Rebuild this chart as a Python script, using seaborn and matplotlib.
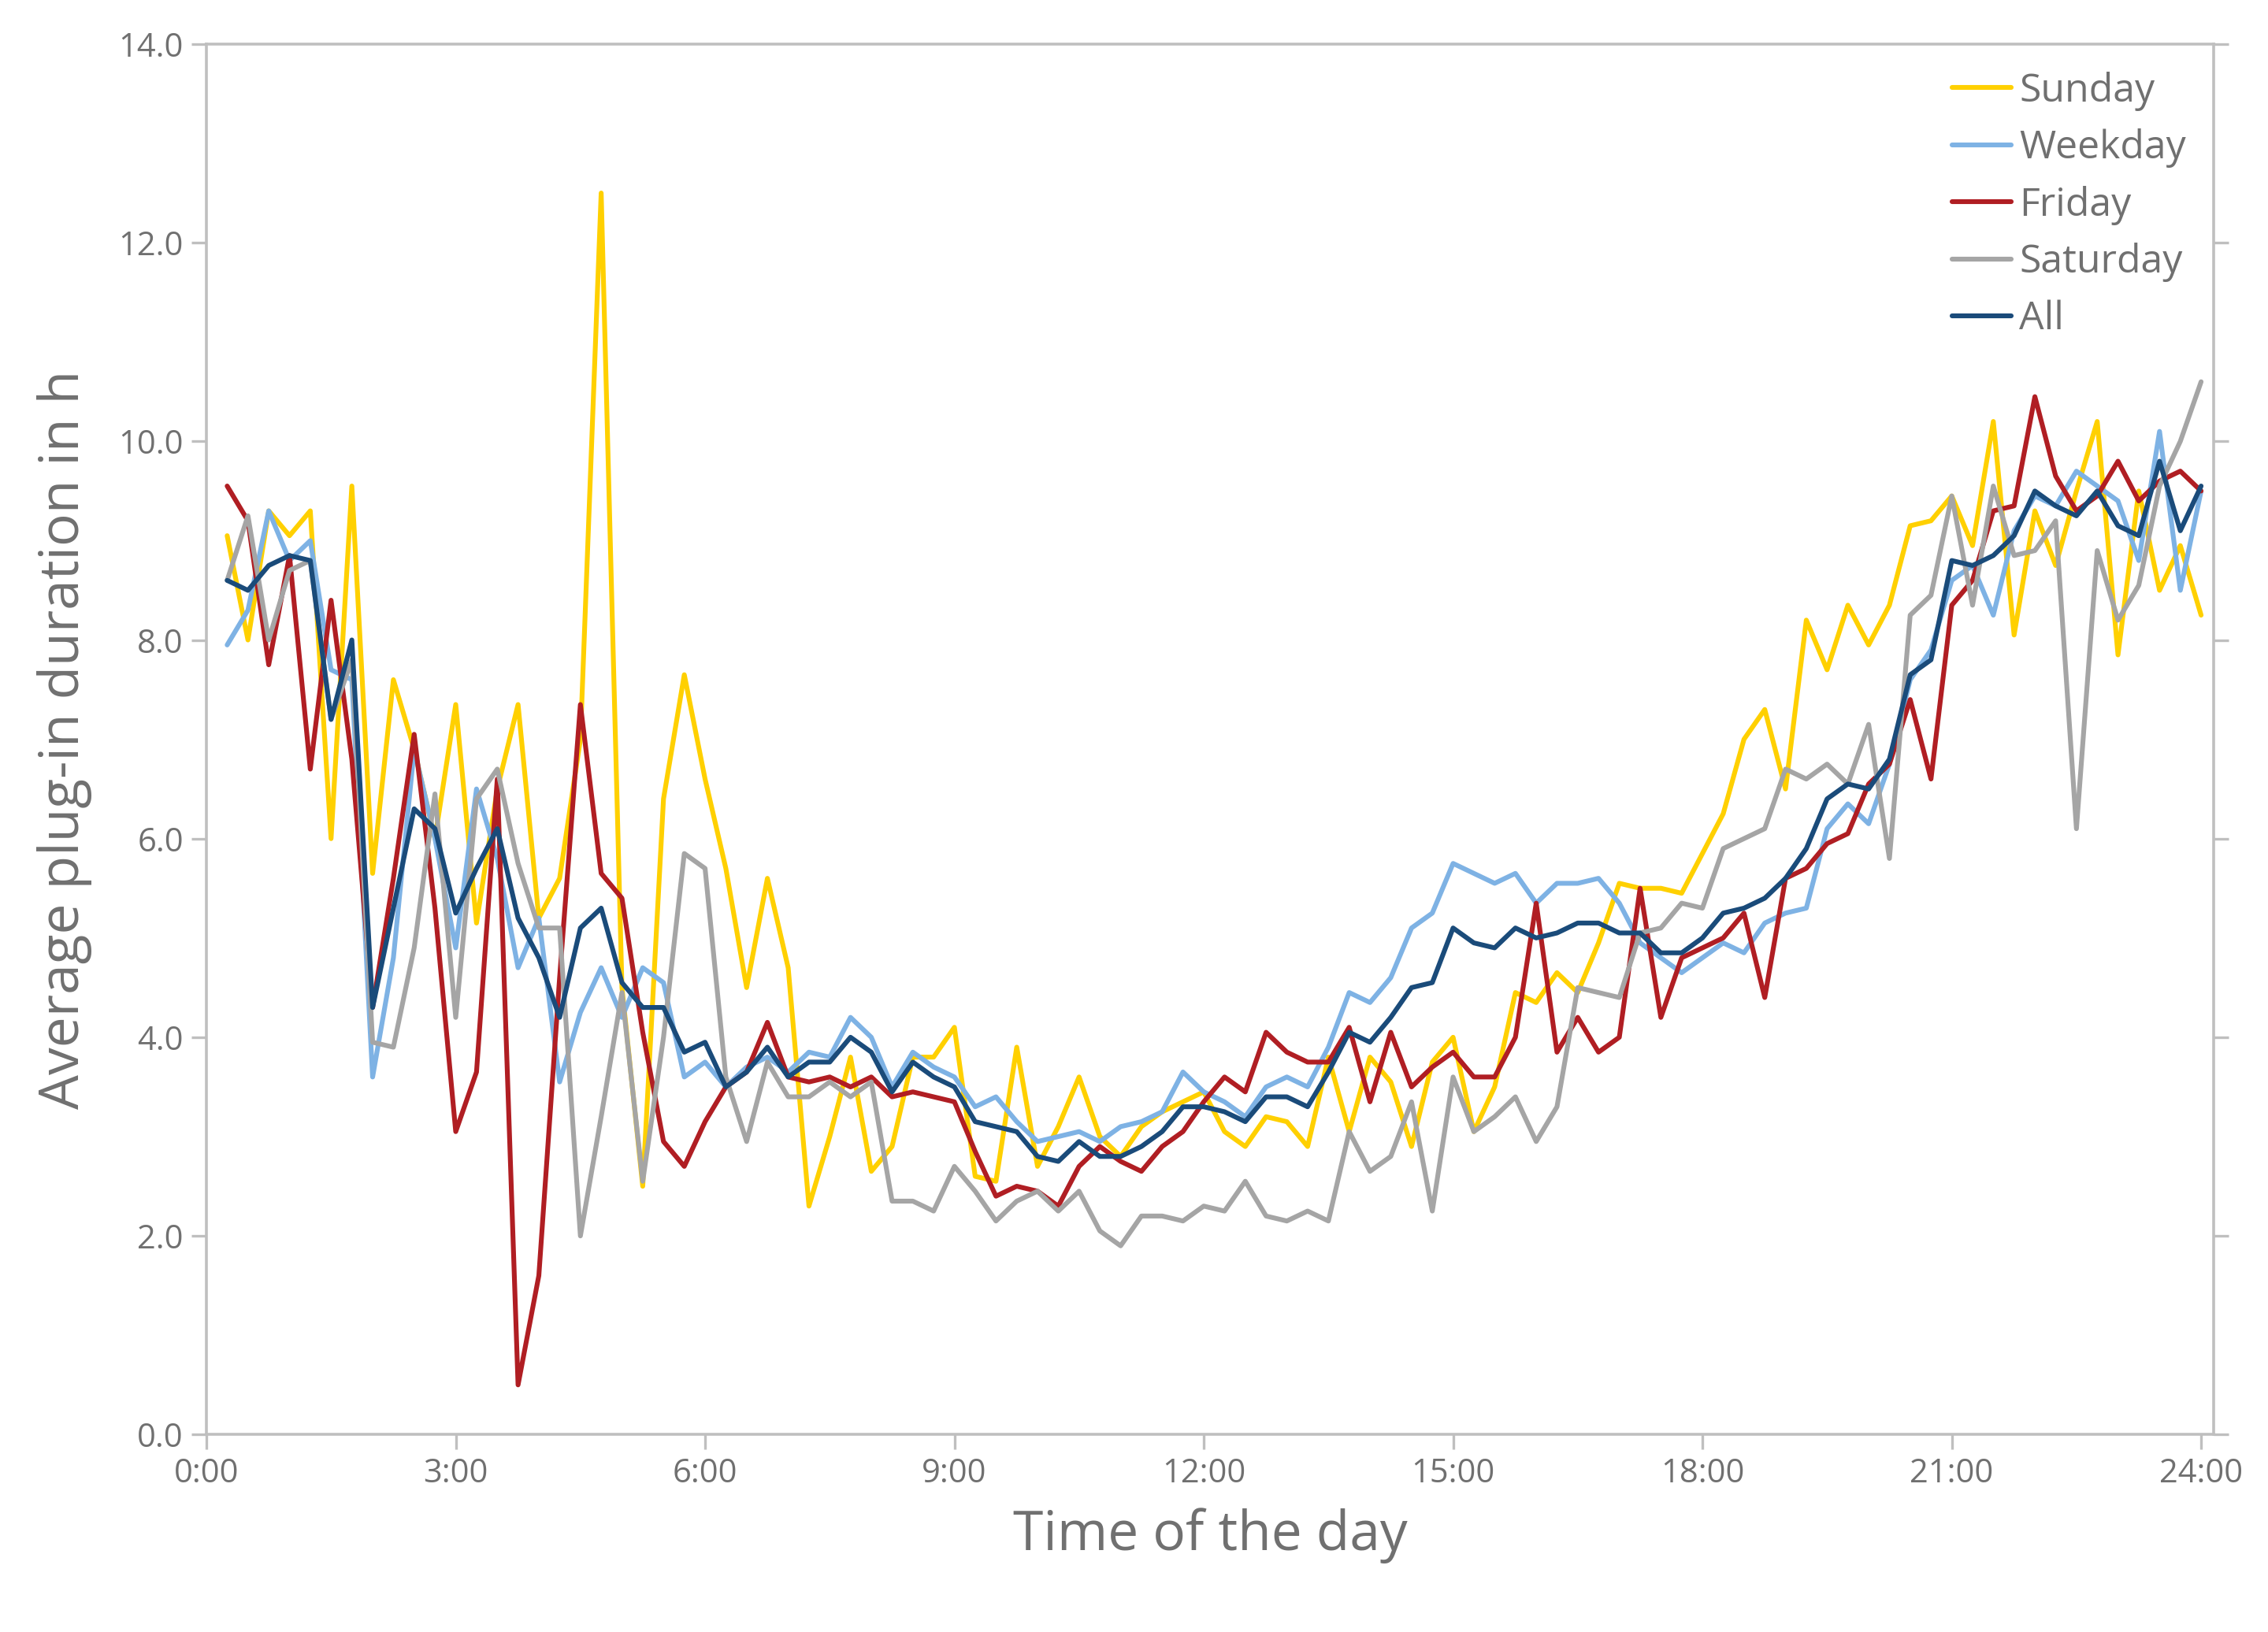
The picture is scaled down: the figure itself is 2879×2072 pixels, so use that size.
import numpy as np
import pandas as pd
import matplotlib
matplotlib.use("Agg")
import matplotlib.pyplot as plt
import seaborn as sns

# quarter-hour slots, 0:15 .. 24:00
hours = np.arange(1, 97) * 0.25

sunday = [9.05, 8.0, 9.3, 9.05, 9.3, 6.0, 9.55, 5.65, 7.6, 6.9,
          6.0, 7.35, 5.15, 6.5, 7.35, 5.2, 5.6, 7.0, 12.5, 4.5,
          2.5, 6.4, 7.65, 6.6, 5.7, 4.5, 5.6, 4.7, 2.3, 3.0,
          3.8, 2.65, 2.9, 3.8, 3.8, 4.1, 2.6, 2.55, 3.9, 2.7,
          3.1, 3.6, 3.0, 2.8, 3.1, 3.25, 3.35, 3.45, 3.05, 2.9,
          3.2, 3.15, 2.9, 3.8, 3.05, 3.8, 3.55, 2.9, 3.75, 4.0,
          3.05, 3.5, 4.45, 4.35, 4.65, 4.45, 4.95, 5.55, 5.5, 5.5,
          5.45, 5.85, 6.25, 7.0, 7.3, 6.5, 8.2, 7.7, 8.35, 7.95,
          8.35, 9.15, 9.2, 9.45, 8.95, 10.2, 8.05, 9.3, 8.75, 9.5,
          10.2, 7.85, 9.5, 8.5, 8.95, 8.25]
weekday = [7.95, 8.3, 9.3, 8.8, 9.0, 7.7, 7.6, 3.6, 4.8, 6.9,
           6.0, 4.9, 6.5, 5.8, 4.7, 5.2, 3.55, 4.25, 4.7, 4.2,
           4.7, 4.55, 3.6, 3.75, 3.5, 3.7, 3.8, 3.65, 3.85, 3.8,
           4.2, 4.0, 3.5, 3.85, 3.7, 3.6, 3.3, 3.4, 3.15, 2.95,
           3.0, 3.05, 2.95, 3.1, 3.15, 3.25, 3.65, 3.45, 3.35, 3.2,
           3.5, 3.6, 3.5, 3.9, 4.45, 4.35, 4.6, 5.1, 5.25, 5.75,
           5.65, 5.55, 5.65, 5.35, 5.55, 5.55, 5.6, 5.35, 4.95, 4.8,
           4.65, 4.8, 4.95, 4.85, 5.15, 5.25, 5.3, 6.1, 6.35, 6.15,
           6.75, 7.6, 7.9, 8.6, 8.75, 8.25, 9.1, 9.45, 9.35, 9.7,
           9.55, 9.4, 8.8, 10.1, 8.5, 9.5]
friday = [9.55, 9.2, 7.75, 8.85, 6.7, 8.4, 6.8, 4.3, 5.6, 7.05,
          5.3, 3.05, 3.65, 6.6, 0.5, 1.6, 4.6, 7.35, 5.65, 5.4,
          4.05, 2.95, 2.7, 3.15, 3.5, 3.65, 4.15, 3.6, 3.55, 3.6,
          3.5, 3.6, 3.4, 3.45, 3.4, 3.35, 2.85, 2.4, 2.5, 2.45,
          2.3, 2.7, 2.9, 2.75, 2.65, 2.9, 3.05, 3.35, 3.6, 3.45,
          4.05, 3.85, 3.75, 3.75, 4.1, 3.35, 4.05, 3.5, 3.7, 3.85,
          3.6, 3.6, 4.0, 5.35, 3.85, 4.2, 3.85, 4.0, 5.5, 4.2,
          4.8, 4.9, 5.0, 5.25, 4.4, 5.6, 5.7, 5.95, 6.05, 6.55,
          6.75, 7.4, 6.6, 8.35, 8.6, 9.3, 9.35, 10.45, 9.65, 9.3,
          9.45, 9.8, 9.4, 9.6, 9.7, 9.5]
saturday = [8.6, 9.25, 8.0, 8.7, 8.8, 7.2, 7.8, 3.95, 3.9, 4.9,
            6.45, 4.2, 6.4, 6.7, 5.75, 5.1, 5.1, 2.0, 3.2, 4.45,
            2.55, 4.0, 5.85, 5.7, 3.6, 2.95, 3.75, 3.4, 3.4, 3.55,
            3.4, 3.55, 2.35, 2.35, 2.25, 2.7, 2.45, 2.15, 2.35, 2.45,
            2.25, 2.45, 2.05, 1.9, 2.2, 2.2, 2.15, 2.3, 2.25, 2.55,
            2.2, 2.15, 2.25, 2.15, 3.05, 2.65, 2.8, 3.35, 2.25, 3.6,
            3.05, 3.2, 3.4, 2.95, 3.3, 4.5, 4.45, 4.4, 5.05, 5.1,
            5.35, 5.3, 5.9, 6.0, 6.1, 6.7, 6.6, 6.75, 6.55, 7.15,
            5.8, 8.25, 8.45, 9.45, 8.35, 9.55, 8.85, 8.9, 9.2, 6.1,
            8.9, 8.2, 8.55, 9.55, 10.0, 10.6]
all_days = [8.6, 8.5, 8.75, 8.85, 8.8, 7.2, 8.0, 4.3, 5.3, 6.3,
            6.1, 5.25, 5.7, 6.1, 5.2, 4.8, 4.2, 5.1, 5.3, 4.55,
            4.3, 4.3, 3.85, 3.95, 3.5, 3.65, 3.9, 3.6, 3.75, 3.75,
            4.0, 3.85, 3.45, 3.75, 3.6, 3.5, 3.15, 3.1, 3.05, 2.8,
            2.75, 2.95, 2.8, 2.8, 2.9, 3.05, 3.3, 3.3, 3.25, 3.15,
            3.4, 3.4, 3.3, 3.65, 4.05, 3.95, 4.2, 4.5, 4.55, 5.1,
            4.95, 4.9, 5.1, 5.0, 5.05, 5.15, 5.15, 5.05, 5.05, 4.85,
            4.85, 5.0, 5.25, 5.3, 5.4, 5.6, 5.9, 6.4, 6.55, 6.5,
            6.8, 7.65, 7.8, 8.8, 8.75, 8.85, 9.05, 9.5, 9.35, 9.25,
            9.5, 9.15, 9.05, 9.8, 9.1, 9.55]

series_names = ["Sunday", "Weekday", "Friday", "Saturday", "All"]
colors = ["#FFD000", "#7EB2E4", "#B01E23", "#A5A5A5", "#1A4B7A"]

df = pd.DataFrame({"hour": np.tile(hours, 5),
                   "value": np.concatenate([sunday, weekday, friday, saturday, all_days]),
                   "day": np.repeat(series_names, 96)})

sns.set_style("white")
plt.rcParams["font.family"] = ["Open Sans", "DejaVu Sans"]
txt = "#707070"
edge = "#BFBFBF"

fig = plt.figure(figsize=(14.395, 10.36), dpi=200)
ax = fig.add_axes([0.091, 0.121, 0.885, 0.852])
sns.lineplot(data=df, x="hour", y="value", hue="day", hue_order=series_names,
             palette=colors, linewidth=2.2, ax=ax)

ax.set_xlim(0, 24.15)
ax.set_ylim(0, 14)
ax.set_xticks(np.arange(0, 25, 3))
ax.set_xticklabels([f"{h}:00" for h in range(0, 25, 3)])
ax.set_yticks(np.arange(0, 14.1, 2))
ax.set_yticklabels([f"{v:.1f}" for v in np.arange(0, 14.1, 2)])
ax.tick_params(axis="both", colors=edge, labelcolor=txt, labelsize=15,
               length=7, width=1.2, direction="out", left=True, bottom=True)
ax.tick_params(axis="y", right=True)
for s in ax.spines.values():
    s.set_color(edge)
    s.set_linewidth(1.3)

ax.set_xlabel("Time of the day", fontsize=25, color=txt, labelpad=8)
ax.set_ylabel("Average plug-in duration in h", fontsize=25, color=txt, labelpad=12)

leg = ax.legend(loc="upper right", frameon=False, fontsize=18, handlelength=1.5,
                handletextpad=0.2, labelspacing=0.45, borderaxespad=0.3)
for t in leg.get_texts():
    t.set_color(txt)

fig.savefig("out.png", dpi=200)
